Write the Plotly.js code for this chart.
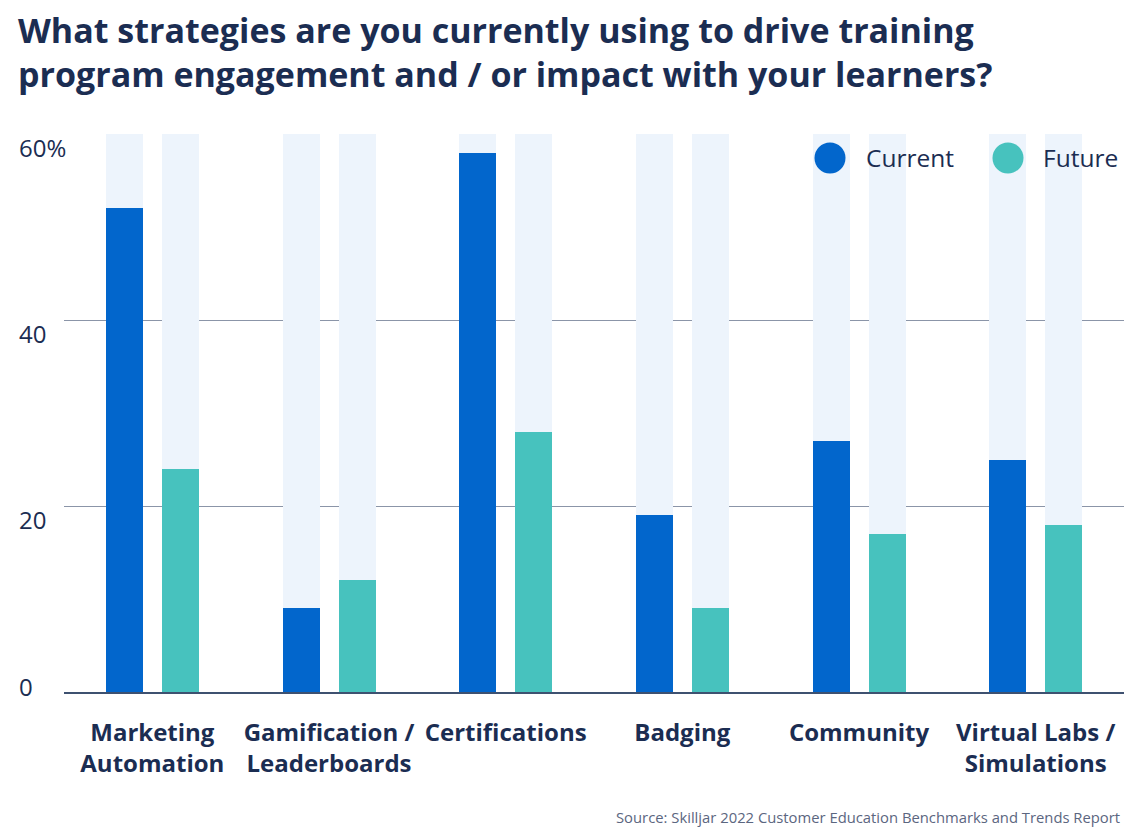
<!DOCTYPE html>
<html>
<head>
<meta charset="utf-8">
<script src="https://cdn.plot.ly/plotly-3.0.1.min.js"></script>
<style>html,body{margin:0;padding:0;background:#fff;}#chart{width:1135px;height:840px;}</style>
</head>
<body>
<div id="chart"></div>
<script>
const categories = ["Marketing<br>Automation", "Gamification /<br>Leaderboards", "Certifications", "Badging", "Community", "Virtual Labs /<br>Simulations"];
const currentValues = [52, 9, 58, 19, 27, 25];
const futureValues = [24, 12, 28, 9, 17, 18];
const backgroundMax = [60, 60, 60, 60, 60, 60];
const yTickValues = [0, 20, 40, 60];
const yTickLabels = ["0", "20", "40", "60%"];
const seriesNames = ["Current", "Future"];
const titleText = "What strategies are you currently using to drive training<br>program engagement and / or impact with your learners?";
const sourceText = "Source: Skilljar 2022 Customer Education Benchmarks and Trends Report";

const NAVY = "#1b2d52";
const C_CUR = "#0266cc";
const C_FUT = "#47c2be";
const C_BG = "#edf4fc";
const FONT = "Open Sans";

const W = 0.21, OFF_CUR = -0.263, OFF_FUT = 0.054;

const traces = [
  {type: "bar", x: categories, y: backgroundMax, width: W, offset: OFF_CUR, marker: {color: C_BG}, hoverinfo: "skip", showlegend: false},
  {type: "bar", x: categories, y: backgroundMax, width: W, offset: OFF_FUT, marker: {color: C_BG}, hoverinfo: "skip", showlegend: false},
  {type: "bar", name: seriesNames[0], x: categories, y: currentValues, width: W, offset: OFF_CUR, marker: {color: C_CUR}, showlegend: false},
  {type: "bar", name: seriesNames[1], x: categories, y: futureValues, width: W, offset: OFF_FUT, marker: {color: C_FUT}, showlegend: false}
];

const annotations = [];
yTickValues.forEach((v, i) => {
  annotations.push({
    xref: "paper", yref: "y", x: -47/1060, y: v, xanchor: "left", yanchor: "middle",
    yshift: v === 0 ? 6 : -13,
    text: yTickLabels[i], showarrow: false,
    font: {family: FONT, size: 24, color: NAVY}
  });
});
const legendX = [864, 1041];
const legendCircleX = [830, 1008];
const legendColors = [C_CUR, C_FUT];
seriesNames.forEach((n, i) => {
  annotations.push({
    xref: "paper", yref: "paper", x: (legendX[i] - 64)/1060, y: 1, yshift: -23,
    xanchor: "left", yanchor: "middle", text: n, showarrow: false,
    font: {family: FONT, size: 24.5, color: NAVY}
  });
});
annotations.push({
  xref: "paper", yref: "paper", x: (1122 - 64)/1060, y: 0, yshift: -125,
  xanchor: "right", yanchor: "middle", text: sourceText, showarrow: false,
  font: {family: FONT, size: 14.8, color: "#5b6680"}
});

const shapes = seriesNames.map((n, i) => ({
  type: "circle", xref: "paper", yref: "paper", xsizemode: "pixel", ysizemode: "pixel",
  xanchor: (legendCircleX[i] - 64)/1060, yanchor: 1,
  x0: -15.5, x1: 15.5, y0: -39.5, y1: -8.5,
  fillcolor: legendColors[i], line: {width: 0}
}));

const layout = {
  width: 1135, height: 840,
  paper_bgcolor: "#ffffff", plot_bgcolor: "#ffffff",
  margin: {l: 64, r: 11, t: 134, b: 148},
  barmode: "overlay",
  bargap: 0,
  title: {
    text: titleText, x: 18/1135, xanchor: "left", xref: "container",
    y: 1 - 43/840, yanchor: "top", yref: "container",
    font: {family: FONT, size: 34, weight: 700, color: NAVY}
  },
  xaxis: {
    type: "category",
    tickfont: {family: FONT, size: 24, weight: 700, color: NAVY},
    showgrid: false, zeroline: false,
    showline: true, linecolor: "#3e5170", linewidth: 2,
    ticks: "", ticklabelstandoff: 18,
    fixedrange: true
  },
  yaxis: {
    range: [0, 60],
    tickvals: [20, 40],
    showticklabels: false,
    showgrid: true, gridcolor: "#8b95a8", gridwidth: 1,
    zeroline: false, showline: false, ticks: "",
    fixedrange: true
  },
  showlegend: false,
  annotations: annotations,
  shapes: shapes
};

Plotly.newPlot("chart", traces, layout, {displayModeBar: false, staticPlot: true});
</script>
</body>
</html>
